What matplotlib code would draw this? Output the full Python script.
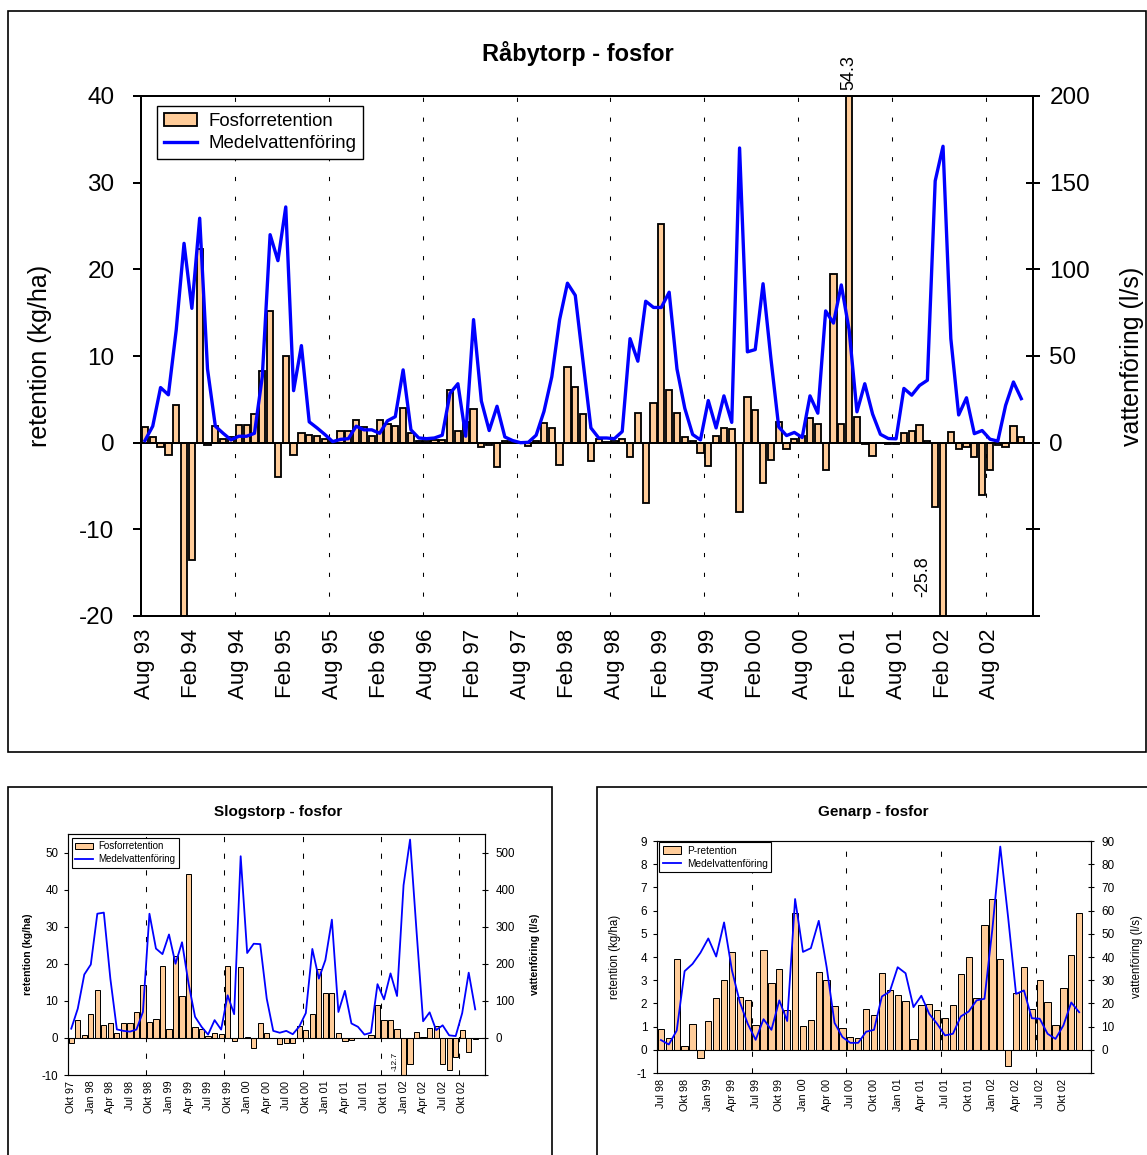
import numpy as np
import matplotlib.pyplot as plt
from matplotlib.patches import Rectangle

plt.rcParams['font.family'] = ['Liberation Sans', 'DejaVu Sans']
plt.rcParams['axes.unicode_minus'] = False

# Råbytorp, monthly values Aug 93 - Dec 02
rab_ret = [1.8, 0.7, -0.5, -1.4, 4.3, -20, -13.5, 22.4, -0.25, 1.9,
           0.4, 0.6, 2.0, 2.0, 3.3, 8.3, 15.2, -4.0, 10.0, -1.4,
           1.1, 0.9, 0.75, 0.4, 0.2, 1.4, 1.4, 2.6, 1.8, 0.75,
           2.6, 2.1, 1.9, 4.0, 1.1, 0.25, 0.25, 0.3, 0.3, 6.1,
           1.3, 2.4, 3.9, -0.45, -0.25, -2.8, 0.25, 0.2, 0.05, -0.35,
           0.25, 2.3, 1.7, -2.6, 8.7, 6.4, 3.3, -2.1, 0.4, 0.1,
           0.2, 0.4, -1.6, 3.4, -7.0, 4.6, 25.2, 6.1, 3.4, 0.65,
           0.15, -1.2, -2.7, 0.8, 1.7, 1.6, -8.0, 5.3, 3.75, -4.6,
           -2.0, 2.4, -0.7, 0.4, 0.8, 2.8, 2.1, -3.2, 19.5, 2.1,
           54.3, 3.0, -0.2, -1.5, 0.0, -0.15, -0.2, 1.1, 1.4, 2.0,
           0.2, -7.4, -25.8, 1.2, -0.7, -0.55, -1.7, -6.05, -3.1, -0.25,
           -0.55, 1.9, 0.7]
rab_flow = [1.2, 9.5, 31.8, 27.6, 65, 115, 77.5, 129.5, 42.5, 9.5,
            5.4, 1.6, 3.7, 3.7, 5.4, 38, 120, 105, 136, 30,
            56, 12, 8.5, 4.7, 0.6, 1.9, 2.3, 9.5, 7.4, 7.4,
            5.4, 12.6, 15, 42, 7.4, 2.7, 2.3, 2.7, 4.3, 28.5,
            34, 3.7, 71, 24, 7, 21, 3.3, 1.2, 0, 0.2,
            4.3, 18, 38, 71, 92, 85, 46.6, 8.5, 2.7, 2.7,
            2.3, 6.4, 60, 47, 81.6, 78, 78, 86.8, 42.5, 19.8,
            4.7, 1.6, 24.3, 8.5, 27, 11.7, 170, 52.4, 53.7, 91.7,
            48.7, 9.1, 4.1, 5.9, 3.0, 27, 17, 76, 69, 91,
            65, 17.8, 34, 16.5, 4.8, 2.4, 2.2, 31.3, 27.4, 33,
            36, 151, 171, 60, 16, 25.9, 5.2, 7, 2, 0.9,
            21.5, 35, 25.4]
rab_ticks = ['Aug 93', 'Feb 94', 'Aug 94', 'Feb 95', 'Aug 95', 'Feb 96', 'Aug 96',
             'Feb 97', 'Aug 97', 'Feb 98', 'Aug 98', 'Feb 99', 'Aug 99', 'Feb 00',
             'Aug 00', 'Feb 01', 'Aug 01', 'Feb 02', 'Aug 02']

# Slogstorp, Okt 97 - Dec 02
slog_ret = [-1.5, 4.7, 0.9, 6.4, 13.0, 3.6, 4.1, 1.2, 4.0, 4.1,
            7.1, 14.4, 4.4, 5.0, 19.4, 2.4, 22.2, 11.3, 44.3, 3.0,
            2.3, 0.45, 1.4, 1.1, 19.4, -0.8, 19.1, 0.25, -2.7, 4.0,
            1.4, 0.0, -1.7, -1.35, -1.35, 3.1, 2.1, 6.4, 18.7, 12.2,
            12.0, 1.2, -0.9, -0.45, 0.0, 0.0, 0.9, 8.8, 4.8, 4.9,
            2.5, -12.7, -6.9, 1.7, 0.3, 2.7, 3.2, -6.9, -8.7, -5.1,
            2.2, -3.8, -0.3]
slog_flow = [25, 79, 171, 198, 335, 338, 160, 23, 19, 17,
             22.5, 70, 335, 241, 226, 279, 200, 258, 147, 57,
             30, 9, 48, 22.5, 115, 64, 490, 229, 254, 253,
             106, 19, 14, 19, 10, 31, 67, 240, 160, 210,
             319, 70, 127, 39, 30, 9, 14, 145, 104, 174,
             113, 412, 535, 286, 45, 69, 21, 34, 7, 5,
             67, 176, 77]
slog_ticks = ['Okt 97', 'Jan 98', 'Apr 98', 'Jul 98', 'Okt 98', 'Jan 99', 'Apr 99',
              'Jul 99', 'Okt 99', 'Jan 00', 'Apr 00', 'Jul 00', 'Okt 00', 'Jan 01',
              'Apr 01', 'Jul 01', 'Okt 01', 'Jan 02', 'Apr 02', 'Jul 02', 'Okt 02']

# Genarp, Jul 98 - Dec 02
gen_ret = [0.89, 0.52, 3.9, 0.17, 1.12, -0.34, 1.26, 2.24, 3.02, 4.21,
           2.28, 2.15, 1.08, 4.31, 2.89, 3.48, 1.71, 5.89, 1.02, 1.28,
           3.36, 3.02, 1.9, 0.96, 0.55, 0.49, 1.74, 1.52, 3.29, 2.57,
           2.37, 2.11, 0.47, 1.91, 1.98, 1.71, 1.35, 1.91, 3.28, 4.02,
           2.24, 5.4, 6.51, 3.92, -0.68, 2.46, 3.56, 1.77, 3.02, 2.08,
           1.08, 2.67, 4.07, 5.89]
gen_flow = [4.2, 2.3, 8.3, 33.9, 37, 41.8, 48, 40.2, 54.9, 34.2,
            20.5, 11.2, 4.3, 13.2, 8.6, 21.3, 12.4, 65, 42.2, 43.8,
            55.6, 35.6, 11.6, 5.5, 3.0, 3.0, 7.8, 8.6, 23, 25.1,
            35.6, 33, 18.4, 23.3, 15.5, 11.2, 6.2, 6.9, 14.4, 16.5,
            21.3, 22, 52, 87.6, 57, 24.1, 25.6, 13.6, 13.4, 6.9,
            4.7, 10.5, 20.4, 16.2]
gen_ticks = ['Jul 98', 'Okt 98', 'Jan 99', 'Apr 99', 'Jul 99', 'Okt 99', 'Jan 00',
             'Apr 00', 'Jul 00', 'Okt 00', 'Jan 01', 'Apr 01', 'Jul 01', 'Okt 01',
             'Jan 02', 'Apr 02', 'Jul 02', 'Okt 02']

W, H = 1147, 1155
fig = plt.figure(figsize=(W / 100, H / 100), dpi=100)


def rect(l, t, r, b):
    return [l / W, 1 - b / H, (r - l) / W, (b - t) / H]


def panel(box, ret, flow, ticks, step, ylim, yticks, fmax, fstep,
          s, lw, dash, ylab_x, rlab_x, lab_bold):
    ax = fig.add_axes(rect(*box))
    n = len(ret)
    x = np.arange(n) + 0.5
    ax.bar(x, ret, width=0.8, color='#FFCC99', edgecolor='black',
           linewidth=lw * 0.55, zorder=2)
    ax.axhline(0, color='black', lw=lw * 0.6, zorder=3)
    for b in range(12, n, 12):
        ax.axvline(b, color='black', lw=0.75, ls=dash, zorder=1)
    ax.set_xlim(0, n + 1)
    ax.set_ylim(*ylim)
    ax.set_yticks(yticks)
    ax.set_xticks(x[::step])
    ax.set_xticklabels(ticks, rotation=90, fontsize=s['xt'])
    ax.tick_params(axis='x', length=0, pad=s['xpad'])
    ax.tick_params(axis='y', direction='out', length=s['tl'], width=lw * 0.6,
                   labelsize=s['yt'], pad=s['ypad'])
    for sp in ax.spines.values():
        sp.set_linewidth(lw * 0.6)
    w = 'bold' if lab_bold else 'normal'
    ax.set_ylabel('retention (kg/ha)', fontsize=s['lab'], fontweight=w)
    ax.yaxis.set_label_coords(ylab_x, 0.5)

    ax2 = ax.twinx()
    line, = ax2.plot(x, flow, color='#0000FF', lw=lw, zorder=4)
    scale = fmax / ylim[1]
    ax2.set_ylim(ylim[0] * scale, fmax)
    ft = np.arange(ylim[0] * scale, fmax + 1, fstep)
    ax2.set_yticks(ft)
    ax2.set_yticklabels(['%g' % v if v >= 0 else '' for v in ft])
    ax2.tick_params(axis='y', direction='inout', length=s['tl'] * 1.6,
                    width=lw * 0.6, labelsize=s['yt'], pad=s['rpad'])
    for sp in ax2.spines.values():
        sp.set_linewidth(lw * 0.6)
    ax2.set_ylabel('vattenföring (l/s)', fontsize=s['lab'], fontweight=w)
    ax2.yaxis.set_label_coords(rlab_x, 0.5)
    return ax, ax2, x, line


def add_legend(ax, handles, labels, lx, ty, size, lw):
    leg = ax.legend(handles, labels, loc='upper left',
                    bbox_to_anchor=(lx / W, 1 - ty / H),
                    bbox_transform=fig.transFigure, borderaxespad=0,
                    fancybox=False, framealpha=1, fontsize=size,
                    handlelength=1.8, borderpad=0.35, labelspacing=0.3,
                    handletextpad=0.6)
    leg.get_frame().set_edgecolor('black')
    leg.get_frame().set_linewidth(lw)
    leg.set_zorder(10)


# frames around the three charts
for (l, t, r, b) in [(8, 11, 1146, 752), (8, 787, 552, 1170), (597, 787, 1160, 1170)]:
    fig.add_artist(Rectangle((l / W, 1 - b / H), (r - l) / W, (b - t) / H,
                             transform=fig.transFigure, fill=False,
                             edgecolor='black', lw=1.2))

# main chart
big = dict(xt=16, yt=17.5, lab=18, tl=6, xpad=9, ypad=13, rpad=7)
ax, ax2, x, line = panel((141, 96, 1033, 616), rab_ret, rab_flow, rab_ticks, 6,
                         (-20, 40), np.arange(-20, 41, 10), 200, 50,
                         big, 2.4, (0, (4, 15)), -0.1, 1.098, False)
add_legend(ax2, [ax.containers[0], line], ['Fosforretention', 'Medelvattenföring'],
           157, 106, 13.4, 1.0)
ax.annotate('54.3', (x[90], 40), xytext=(0, 4), textcoords='offset points',
            rotation=90, ha='center', va='bottom', fontsize=13)
ax.annotate('-25.8', (x[102] - 2.6, -20), xytext=(0, 14), textcoords='offset points',
            rotation=90, ha='center', va='bottom', fontsize=13)
fig.text(578 / W, 1 - 53 / H, 'Råbytorp - fosfor', ha='center', va='center',
         fontsize=17, fontweight='bold')

# Slogstorp
small = dict(xt=7.8, yt=8.3, lab=7.5, tl=3, xpad=4, ypad=4, rpad=5)
ax, ax2, x, line = panel((68, 834, 485, 1075), slog_ret, slog_flow, slog_ticks, 3,
                         (-10, 55), np.arange(-10, 51, 10), 550, 100,
                         small, 1.3, (0, (5, 11)), -0.085, 1.108, True)
ax2.set_yticks(np.arange(-100, 501, 100))
ax2.set_yticklabels(['' if v < 0 else str(v) for v in range(-100, 501, 100)])
add_legend(ax2, [ax.containers[0], line], ['Fosforretention', 'Medelvattenföring'],
           72, 838, 7.0, 0.8)
ax.annotate('-12.7', (x[51] - 1.3, -10), xytext=(0, 3), textcoords='offset points',
            rotation=90, ha='center', va='bottom', fontsize=6)
fig.text(278 / W, 1 - 812 / H, 'Slogstorp - fosfor', ha='center', va='center',
         fontsize=11, fontweight='bold')

# Genarp
ax, ax2, x, line = panel((657, 841, 1091, 1073), gen_ret, gen_flow, gen_ticks, 3,
                         (-1, 9), np.arange(-1, 10, 1), 90, 10,
                         small, 1.3, (0, (5, 11)), -0.084, 1.092, False)
for a in (ax, ax2):
    a.tick_params(axis='y', labelsize=8.5)
ax.set_ylabel('retention (kg/ha)', fontsize=8.3)
ax2.set_ylabel('vattenföring (l/s)', fontsize=8.3)
add_legend(ax2, [ax.containers[0], line], ['P-retention', 'Medelvattenföring'],
           659, 842, 7.3, 0.8)
fig.text(873 / W, 1 - 812 / H, 'Genarp - fosfor', ha='center', va='center',
         fontsize=11, fontweight='bold')

fig.savefig('out.png', dpi=100)
